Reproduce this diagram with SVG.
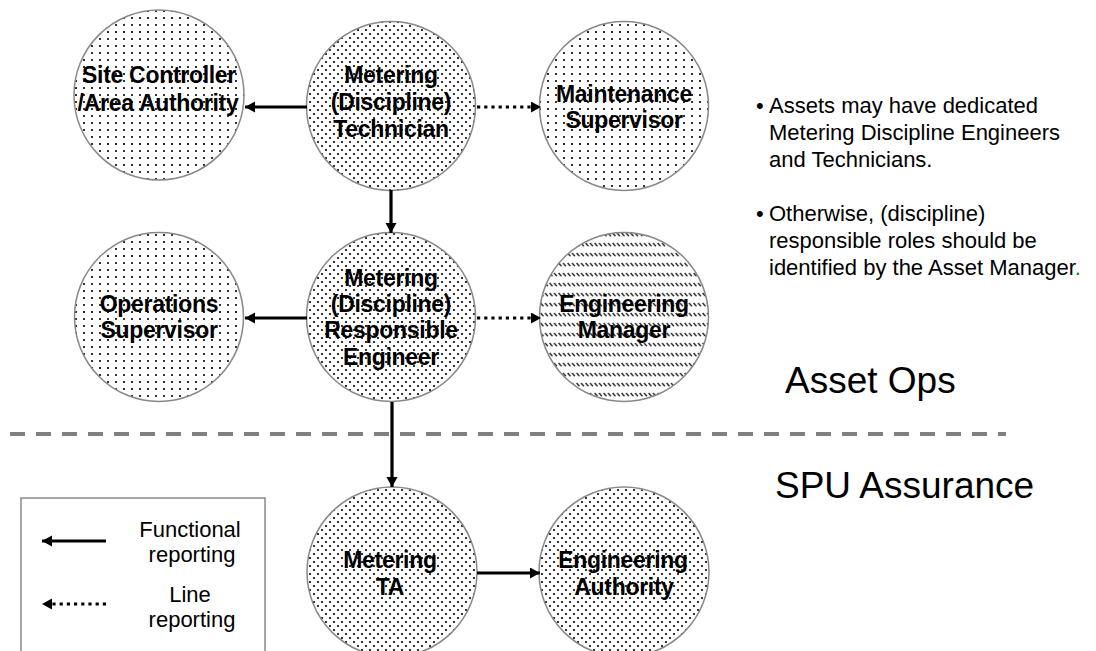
<svg xmlns="http://www.w3.org/2000/svg" width="1096" height="651" viewBox="0 0 1096 651">
<style>
.node{stroke:#888;stroke-width:1.5}
.lbl{font-family:"Liberation Sans",Arial,sans-serif;font-size:23px;font-weight:bold;fill:#000;text-anchor:middle;letter-spacing:-0.3px}
.txt{font-family:"Liberation Sans",Arial,sans-serif;font-size:22px;fill:#000}
.big{font-family:"Liberation Sans",Arial,sans-serif;font-size:37px;fill:#000}
.solid{stroke:#000;stroke-width:3.2;fill:none}
.dot{stroke:#000;stroke-width:3.2;fill:none;stroke-dasharray:3.2 4}
</style>
<defs>
<pattern id="sparse" patternUnits="userSpaceOnUse" width="8" height="7">
<rect width="8" height="7" fill="#fff"/>
<rect x="3" y="3" width="2" height="2" fill="#333"/>
</pattern>
<pattern id="dense" patternUnits="userSpaceOnUse" width="8" height="8">
<rect width="8" height="8" fill="#fff"/>
<rect x="1" y="1" width="2" height="2" fill="#333"/>
<rect x="5" y="5" width="2" height="2" fill="#333"/>
</pattern>
<pattern id="hatch" patternUnits="userSpaceOnUse" width="4.5" height="10">
<rect width="4.5" height="10" fill="#fff"/>
<path d="M0.6,3 L3.4,6.2" stroke="#222" stroke-width="1.4"/>
</pattern>
<marker id="ah" markerUnits="userSpaceOnUse" markerWidth="12" markerHeight="12" refX="10" refY="5.5" orient="auto">
<path d="M0,0 L10,5.5 L0,11 z" fill="#000"/>
</marker>
</defs>

<line x1="10" y1="434" x2="1006" y2="434" stroke="#808080" stroke-width="4" stroke-dasharray="15 11"/>

<g id="node-site-controller">
<circle class="node" cx="159" cy="95" r="85" fill="url(#sparse)"/>
<text class="lbl" x="159" y="83">Site Controller</text>
<text class="lbl" x="158" y="111">/Area Authority</text>
</g>
<g id="node-technician">
<circle class="node" cx="391" cy="106" r="84.5" fill="url(#dense)"/>
<text class="lbl" x="391" y="83">Metering</text>
<text class="lbl" x="391" y="110">(Discipline)</text>
<text class="lbl" x="391" y="137">Technician</text>
</g>
<g id="node-maintenance">
<circle class="node" cx="624" cy="106" r="84.5" fill="url(#sparse)"/>
<text class="lbl" x="624" y="102">Maintenance</text>
<text class="lbl" x="624" y="128">Supervisor</text>
</g>
<g id="node-operations">
<circle class="node" cx="159" cy="317" r="84.5" fill="url(#sparse)"/>
<text class="lbl" x="159" y="312">Operations</text>
<text class="lbl" x="159" y="338">Supervisor</text>
</g>
<g id="node-responsible-engineer">
<circle class="node" cx="391" cy="317" r="84.5" fill="url(#dense)"/>
<text class="lbl" x="391" y="286">Metering</text>
<text class="lbl" x="391" y="312">(Discipline)</text>
<text class="lbl" x="391" y="338">Responsible</text>
<text class="lbl" x="391" y="365">Engineer</text>
</g>
<g id="node-engineering-manager">
<circle class="node" cx="624" cy="317" r="84.5" fill="url(#hatch)"/>
<text class="lbl" x="624" y="312">Engineering</text>
<text class="lbl" x="624" y="338">Manager</text>
</g>
<g id="node-metering-ta">
<circle class="node" cx="392" cy="572" r="85" fill="url(#dense)"/>
<text class="lbl" x="390" y="568">Metering</text>
<text class="lbl" x="390" y="595">TA</text>
</g>
<g id="node-engineering-authority">
<circle class="node" cx="624" cy="572" r="85" fill="url(#dense)"/>
<text class="lbl" x="623" y="568">Engineering</text>
<text class="lbl" x="624" y="595">Authority</text>
</g>

<g id="connectors">
<line class="solid" x1="307" y1="107" x2="245" y2="107" marker-end="url(#ah)"/>
<line class="dot" x1="477" y1="107" x2="541" y2="107" marker-end="url(#ah)"/>
<line class="solid" x1="391" y1="190" x2="391" y2="233" marker-end="url(#ah)"/>
<line class="solid" x1="307" y1="318" x2="245" y2="318" marker-end="url(#ah)"/>
<line class="dot" x1="477" y1="318" x2="541" y2="318" marker-end="url(#ah)"/>
<line class="solid" x1="392" y1="402" x2="392" y2="487" marker-end="url(#ah)"/>
<line class="solid" x1="477" y1="573" x2="540" y2="573" marker-end="url(#ah)"/>
</g>

<g id="legend">
<rect x="21" y="498" width="244" height="200" fill="#fff" stroke="#888" stroke-width="1.5"/>
<line class="solid" x1="106" y1="541" x2="42" y2="541" marker-end="url(#ah)"/>
<line class="dot" x1="106" y1="604" x2="42" y2="604" marker-end="url(#ah)"/>
<text class="txt" x="190" y="537" text-anchor="middle">Functional</text>
<text class="txt" x="192" y="562" text-anchor="middle">reporting</text>
<text class="txt" x="190" y="602" text-anchor="middle">Line</text>
<text class="txt" x="192" y="627" text-anchor="middle">reporting</text>
</g>

<g id="notes">
<text class="txt" x="756" y="113" font-size="18">•</text>
<text class="txt" x="769" y="113">Assets may have dedicated</text>
<text class="txt" x="769" y="140">Metering Discipline Engineers</text>
<text class="txt" x="769" y="167">and Technicians.</text>
<text class="txt" x="756" y="221" font-size="18">•</text>
<text class="txt" x="769" y="221">Otherwise, (discipline)</text>
<text class="txt" x="769" y="248">responsible roles should be</text>
<text class="txt" x="769" y="275">identified by the Asset Manager<tspan fill="#1a7a1a">.</tspan></text>
</g>

<text class="big" x="785" y="393">Asset Ops</text>
<text class="big" x="775" y="498" font-size="36">SPU Assurance</text>
</svg>
